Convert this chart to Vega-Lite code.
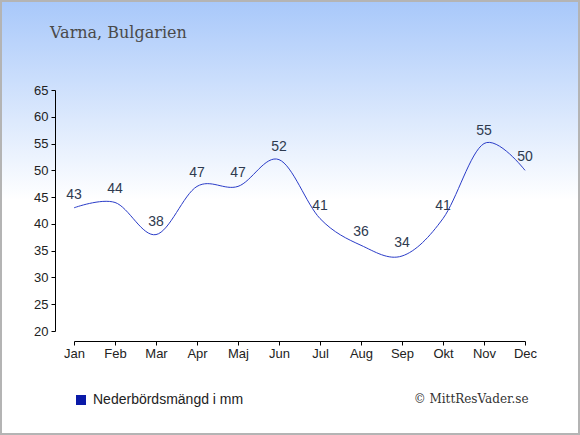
{
  "$schema": "https://vega.github.io/schema/vega-lite/v6.json",
  "width": 451,
  "height": 241,
  "autosize": "none",
  "padding": {"left": 74, "top": 90, "right": 55, "bottom": 104},
  "background": "#ffffff",
  "config": {
    "view": {"stroke": null},
    "axis": {
      "labelFont": "Liberation Sans",
      "labelFontSize": 13,
      "labelColor": "#222222",
      "domainColor": "#000000",
      "tickColor": "#000000",
      "grid": false
    }
  },
  "title": {
    "text": "Varna, Bulgarien",
    "anchor": "start",
    "frame": "group",
    "font": "DejaVu Serif",
    "fontSize": 16,
    "fontWeight": "normal",
    "color": "#4a4a4a",
    "baseline": "alphabetic",
    "dx": -24,
    "offset": 0,
    "dy": 54,
    "zindex": 1
  },
  "layer": [
    {
      "data": {"values": [{}]},
      "mark": {
        "type": "rect",
        "x": -73,
        "x2": 505,
        "y": -89,
        "y2": 344,
        "stroke": "#b4b4b4",
        "strokeWidth": 2,
        "fill": {
          "gradient": "linear",
          "x1": 0, "y1": 0, "x2": 0, "y2": 1,
          "stops": [
            {"offset": 0, "color": "#a8c8fa"},
            {"offset": 0.46, "color": "#ffffff"},
            {"offset": 1, "color": "#ffffff"}
          ]
        }
      },
      "encoding": {}
    },
    {
      "data": {
        "values": [
          {"month": "Jan", "mm": 43},
          {"month": "Feb", "mm": 44},
          {"month": "Mar", "mm": 38},
          {"month": "Apr", "mm": 47},
          {"month": "Maj", "mm": 47},
          {"month": "Jun", "mm": 52},
          {"month": "Jul", "mm": 41},
          {"month": "Aug", "mm": 36},
          {"month": "Sep", "mm": 34},
          {"month": "Okt", "mm": 41},
          {"month": "Nov", "mm": 55},
          {"month": "Dec", "mm": 50}
        ]
      },
      "encoding": {
        "x": {
          "field": "month",
          "type": "ordinal",
          "sort": null,
          "scale": {"type": "point", "padding": 0},
          "axis": {
            "zindex": 1,
            "title": "© MittResVader.se",
            "titleFont": "DejaVu Serif",
            "titleFontSize": 12,
            "titleFontWeight": "normal",
            "titleColor": "#333333",
            "titleAnchor": "end",
            "titleAlign": "right",
            "titleBaseline": "alphabetic",
            "titleX": 454,
            "titleY": 61,
            "labelAngle": 0,
            "offset": 10,
            "tickSize": 4,
            "labelPadding": 2
          }
        },
        "y": {
          "field": "mm",
          "type": "quantitative",
          "scale": {"domain": [20, 65], "nice": false, "zero": false},
          "axis": {
            "zindex": 1,
            "title": null,
            "values": [20, 25, 30, 35, 40, 45, 50, 55, 60, 65],
            "offset": 19,
            "tickSize": 4,
            "labelPadding": 3
          }
        }
      },
      "layer": [
        {
          "mark": {"type": "line", "interpolate": "cardinal", "tension": 0, "strokeWidth": 1},
          "encoding": {
            "color": {
              "datum": "Nederbördsmängd i mm",
              "type": "nominal",
              "scale": {"range": ["#2a3cc8"]},
              "legend": {
                "title": null,
                "orient": "none",
                "legendX": 0,
                "legendY": 303,
                "symbolType": "square",
                "symbolSize": 100,
                "labelFont": "Liberation Sans",
                "labelFontSize": 14,
                "labelColor": "#222222",
                "labelOffset": 5,
                "zindex": 1,
                "encode": {
                  "symbols": {
                    "update": {
                      "fill": {"value": "#0a1aa8"},
                      "stroke": {"value": "#0a1aa8"},
                      "strokeWidth": {"value": 0}
                    }
                  }
                }
              }
            }
          }
        },
        {
          "mark": {
            "type": "text",
            "baseline": "alphabetic",
            "dy": -9,
            "font": "Liberation Sans",
            "fontSize": 14,
            "color": "#2e3a4f"
          },
          "encoding": {
            "text": {"field": "mm", "type": "quantitative"}
          }
        }
      ]
    }
  ]
}
